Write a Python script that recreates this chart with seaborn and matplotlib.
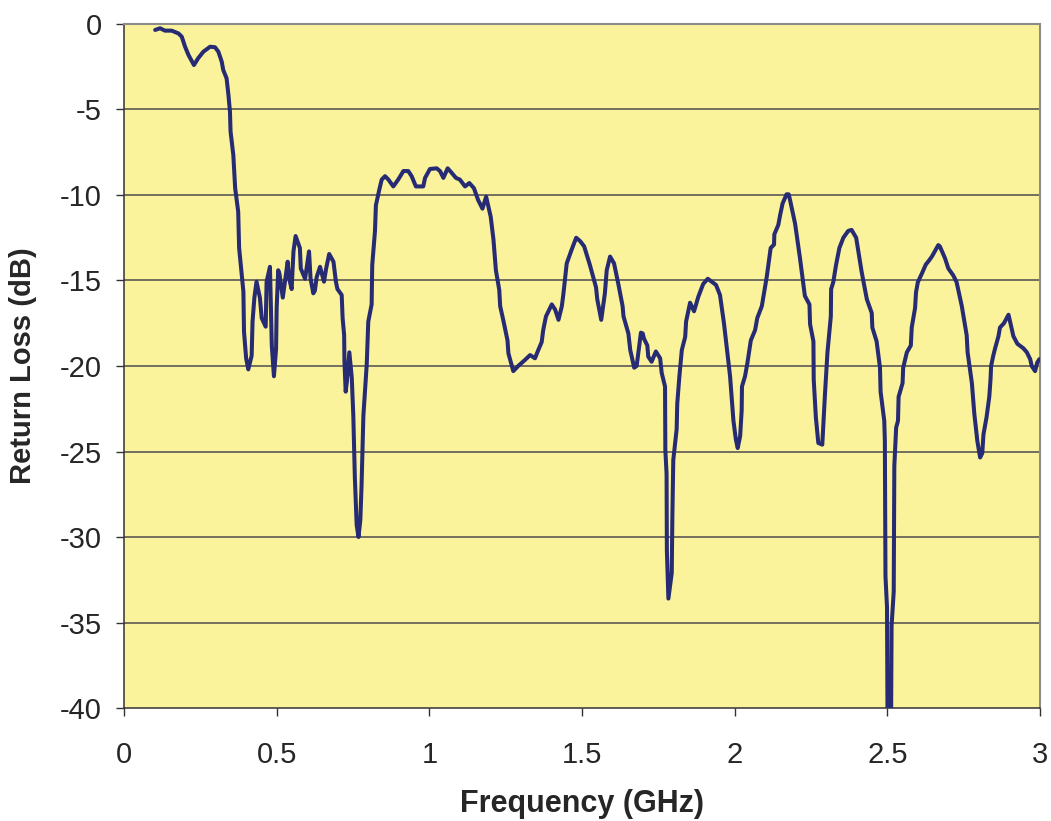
import matplotlib
matplotlib.use("Agg")
import matplotlib.pyplot as plt
import seaborn as sns
import pandas as pd

# Measured return loss versus frequency
freq_ghz = [
    0.102, 0.118, 0.134, 0.156, 0.178, 0.189, 0.200, 0.211, 0.229, 0.243,
    0.260, 0.282, 0.298, 0.309, 0.320, 0.325, 0.336, 0.342, 0.347, 0.349,
    0.358, 0.364, 0.374, 0.377, 0.391, 0.393, 0.400, 0.407, 0.418, 0.421,
    0.427, 0.434, 0.445, 0.451, 0.464, 0.467, 0.478, 0.484, 0.491, 0.498,
    0.500, 0.505, 0.509, 0.520, 0.527, 0.536, 0.541, 0.549, 0.555, 0.562,
    0.576, 0.579, 0.593, 0.606, 0.611, 0.620, 0.625, 0.631, 0.642, 0.655,
    0.662, 0.672, 0.686, 0.694, 0.699, 0.713, 0.716, 0.721, 0.722, 0.726,
    0.730, 0.738, 0.746, 0.751, 0.756, 0.762, 0.768, 0.774, 0.778, 0.784,
    0.795, 0.800, 0.811, 0.813, 0.822, 0.825, 0.836, 0.844, 0.855, 0.866,
    0.882, 0.898, 0.915, 0.931, 0.942, 0.956, 0.980, 0.986, 1.002, 1.024,
    1.035, 1.046, 1.060, 1.073, 1.087, 1.100, 1.117, 1.131, 1.146, 1.160,
    1.174, 1.186, 1.201, 1.210, 1.218, 1.229, 1.232, 1.242, 1.256, 1.259,
    1.275, 1.291, 1.313, 1.330, 1.346, 1.357, 1.368, 1.373, 1.382, 1.401,
    1.412, 1.423, 1.434, 1.439, 1.450, 1.466, 1.481, 1.494, 1.507, 1.526,
    1.546, 1.550, 1.563, 1.575, 1.581, 1.592, 1.605, 1.619, 1.633, 1.636,
    1.652, 1.658, 1.671, 1.679, 1.693, 1.699, 1.703, 1.714, 1.717, 1.728,
    1.742, 1.756, 1.761, 1.772, 1.773, 1.777, 1.778, 1.783, 1.794, 1.796,
    1.799, 1.810, 1.812, 1.819, 1.827, 1.838, 1.841, 1.854, 1.867, 1.881,
    1.897, 1.912, 1.925, 1.939, 1.952, 1.958, 1.965, 1.974, 1.985, 1.996,
    2.004, 2.010, 2.018, 2.023, 2.024, 2.034, 2.042, 2.053, 2.067, 2.074,
    2.089, 2.096, 2.105, 2.118, 2.129, 2.130, 2.143, 2.149, 2.157, 2.170,
    2.177, 2.181, 2.198, 2.214, 2.230, 2.245, 2.247, 2.258, 2.259, 2.266,
    2.274, 2.287, 2.296, 2.304, 2.315, 2.316, 2.323, 2.332, 2.343, 2.356,
    2.372, 2.383, 2.398, 2.416, 2.433, 2.449, 2.451, 2.465, 2.476, 2.478,
    2.490, 2.492, 2.494, 2.499, 2.501, 2.512, 2.514, 2.521, 2.523, 2.529,
    2.535, 2.537, 2.550, 2.552, 2.564, 2.577, 2.580, 2.591, 2.594, 2.600,
    2.613, 2.626, 2.635, 2.646, 2.667, 2.672, 2.689, 2.700, 2.716, 2.727,
    2.744, 2.760, 2.763, 2.777, 2.785, 2.795, 2.804, 2.811, 2.815, 2.825,
    2.834, 2.838, 2.840, 2.847, 2.853, 2.864, 2.869, 2.882, 2.897, 2.908,
    2.913, 2.926, 2.946, 2.957, 2.968, 2.973, 2.984, 2.991, 2.998,
]

return_loss_db = [
    -0.35, -0.25, -0.39, -0.39, -0.55, -0.74, -1.33, -1.81, -2.40, -2.00,
    -1.62, -1.33, -1.36, -1.62, -2.20, -2.69, -3.18, -4.15, -5.13, -6.30,
    -7.66, -9.60, -10.98, -13.10, -15.65, -18.00, -19.55, -20.20, -19.40, -17.40,
    -16.00, -15.07, -16.00, -17.20, -17.70, -15.07, -14.20, -18.80, -20.60, -19.00,
    -16.60, -14.40, -14.60, -16.00, -15.07, -13.90, -14.90, -15.50, -13.30, -12.40,
    -13.10, -14.30, -14.90, -13.30, -14.90, -15.75, -15.60, -14.80, -14.20, -15.07,
    -14.30, -13.45, -13.90, -15.07, -15.50, -15.85, -17.20, -18.20, -19.75, -21.50,
    -20.90, -19.20, -20.70, -22.90, -26.50, -29.30, -30.00, -29.00, -27.00, -22.90,
    -19.90, -17.40, -16.40, -14.10, -12.10, -10.60, -9.70, -9.10, -8.90, -9.10,
    -9.50, -9.10, -8.60, -8.60, -8.90, -9.50, -9.50, -9.00, -8.48, -8.44,
    -8.60, -9.00, -8.44, -8.70, -9.00, -9.10, -9.50, -9.30, -9.60, -10.30,
    -10.80, -10.10, -11.27, -12.60, -14.40, -15.55, -16.50, -17.30, -18.50, -19.26,
    -20.30, -20.00, -19.65, -19.36, -19.55, -19.06, -18.60, -17.90, -17.10, -16.40,
    -16.70, -17.30, -16.50, -15.80, -14.00, -13.20, -12.50, -12.70, -13.00, -14.10,
    -15.40, -16.10, -17.30, -15.75, -14.40, -13.60, -14.00, -15.20, -16.50, -17.10,
    -18.10, -19.06, -20.10, -20.00, -18.05, -18.10, -18.40, -18.80, -19.45, -19.75,
    -19.15, -19.55, -20.40, -21.20, -24.90, -26.30, -30.80, -33.60, -32.10, -28.80,
    -25.50, -23.70, -22.20, -20.60, -19.06, -18.30, -17.40, -16.30, -16.80, -15.95,
    -15.20, -14.90, -15.07, -15.26, -15.85, -16.60, -17.50, -18.90, -20.60, -23.20,
    -24.30, -24.80, -24.10, -22.60, -21.20, -20.60, -19.80, -18.50, -17.90, -17.20,
    -16.50, -15.75, -14.80, -13.10, -12.90, -12.30, -11.75, -11.17, -10.50, -9.96,
    -9.96, -10.26, -11.68, -13.70, -15.90, -16.40, -17.55, -18.56, -20.80, -23.00,
    -24.50, -24.60, -21.60, -19.20, -17.10, -15.50, -15.10, -14.10, -13.10, -12.50,
    -12.10, -12.04, -12.50, -14.50, -16.10, -16.90, -17.75, -18.56, -20.10, -21.50,
    -23.20, -24.40, -32.30, -34.10, -42.00, -42.00, -35.20, -33.20, -25.85, -23.60,
    -23.20, -21.80, -21.00, -20.10, -19.20, -18.80, -17.75, -16.60, -15.70, -15.10,
    -14.60, -14.07, -13.87, -13.60, -12.93, -13.00, -13.70, -14.30, -14.70, -15.10,
    -16.50, -18.20, -19.20, -21.00, -22.80, -24.40, -25.35, -25.10, -24.00, -23.00,
    -21.80, -20.80, -20.00, -19.40, -18.97, -18.26, -17.75, -17.50, -17.00, -17.85,
    -18.26, -18.70, -18.97, -19.20, -19.60, -20.00, -20.30, -19.80, -19.60,
]

x_ticks = [0, 0.5, 1, 1.5, 2, 2.5, 3]
x_tick_labels = ["0", "0.5", "1", "1.5", "2", "2.5", "3"]
y_ticks = [0, -5, -10, -15, -20, -25, -30, -35, -40]
y_tick_labels = ["0", "-5", "-10", "-15", "-20", "-25", "-30", "-35", "-40"]

df = pd.DataFrame({"Frequency (GHz)": freq_ghz, "Return Loss (dB)": return_loss_db})

sns.set_theme(style="white")
plt.rcParams["font.family"] = ["Liberation Sans", "DejaVu Sans"]

fig = plt.figure(figsize=(10.51, 8.21), dpi=100)
ax = fig.add_axes([0.118, 0.1376, 0.8715, 0.8332])
ax.set_facecolor("#FBF39B")

# Horizontal grid at every 5 dB
for yv in y_ticks[1:-1]:
    ax.axhline(yv, color="#4D4D4D", linewidth=1.1, zorder=1)

sns.lineplot(data=df, x="Frequency (GHz)", y="Return Loss (dB)", ax=ax,
             sort=False, estimator=None, color="#262B74", linewidth=2.9,
             solid_joinstyle="round", solid_capstyle="round", zorder=3)

ax.set_xlim(0, 3)
ax.set_ylim(-40, 0)
ax.set_xticks(x_ticks)
ax.set_xticklabels(x_tick_labels)
ax.set_yticks(y_ticks)
ax.set_yticklabels(y_tick_labels)
ax.tick_params(axis="both", which="major", labelsize=21, length=6, width=1,
               color="#333333", direction="out", bottom=True, left=True)
ax.tick_params(axis="y", pad=10)
ax.tick_params(axis="x", pad=18)

for side in ["left", "bottom"]:
    ax.spines[side].set_color("#333333")
    ax.spines[side].set_linewidth(1.1)
for side in ["top", "right"]:
    ax.spines[side].set_color("#8C8C8C")
    ax.spines[side].set_linewidth(1.5)

ax.set_xlabel("Frequency (GHz)", fontsize=22, fontweight="bold", labelpad=14)
ax.set_ylabel("Return Loss (dB)", fontsize=21, fontweight="bold", labelpad=16)

fig.savefig("out.png", dpi=100, facecolor="white")
